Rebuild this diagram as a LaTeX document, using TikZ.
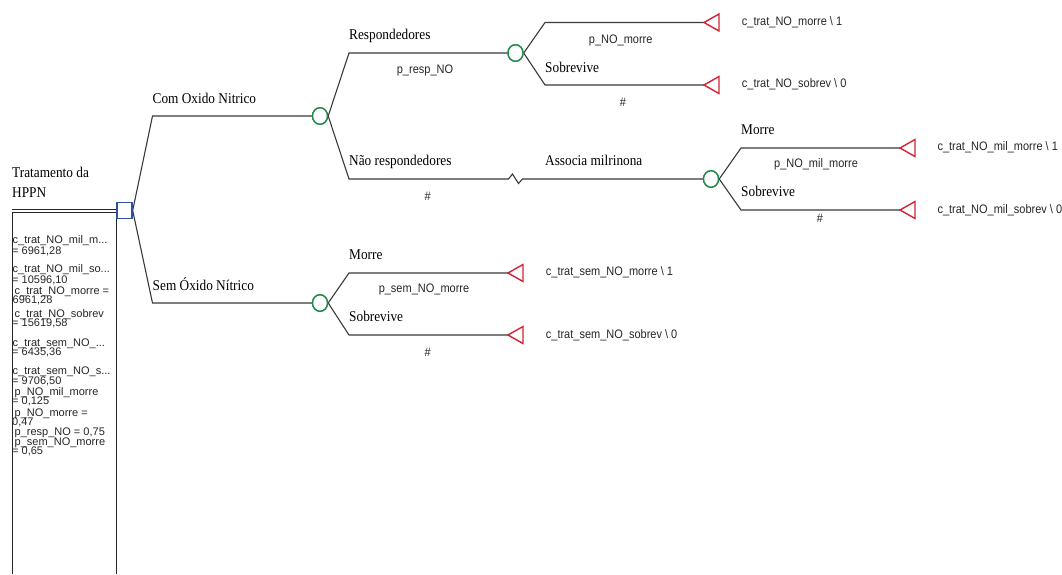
\documentclass[tikz,border=0pt]{standalone}
\usepackage{fontspec}
\setmainfont{Liberation Serif}
\newfontfamily\lsans{Liberation Sans}
\usepackage{graphicx}
\usetikzlibrary{shapes.geometric}
\definecolor{linegray}{RGB}{58,58,58}
\definecolor{chgreen}{RGB}{34,139,76}
\definecolor{decblue}{RGB}{45,82,160}
\definecolor{termred}{RGB}{212,34,52}
\newcommand{\vs}[1]{\scalebox{1}[1.12]{#1}}
\newcommand{\pl}[2]{\hbox{\kern#1pt #2}}
\tikzset{
  branch/.style={draw=linegray, line width=1.1pt},
  boxline/.style={draw=black!85, line width=0.9pt},
  chance/.style={ellipse, draw=chgreen, line width=1.4pt, fill=white, minimum width=15pt, minimum height=16.5pt, inner sep=0pt},
  decision/.style={rectangle, draw=decblue, line width=1.4pt, fill=white, minimum width=15pt, minimum height=16pt, inner sep=0pt},
  term/.style={draw=termred, line width=1.4pt, line join=miter},
  lab/.style={font=\fontsize{13.3}{15}\selectfont, inner sep=0pt, anchor=base west, text=black},
  sl/.style={font=\lsans\fontsize{11}{12}\selectfont, inner sep=0pt, anchor=base west, text=black!85},
  slc/.style={font=\lsans\fontsize{11}{12}\selectfont, inner sep=0pt, anchor=base, text=black!85},
}
\begin{document}
\begin{tikzpicture}[x=1pt,y=-1pt]
\useasboundingbox (0,0) rectangle (1062,574);
\fill[white] (0,0) rectangle (1062,574);

% ---- root label and parameter box
\node[lab] (root1) at (12,177.3) {\vs{Tratamento da}};
\node[lab] (root2) at (12,197.3) {\vs{HPPN}};
\coordinate (bl) at (12,209.5);
\coordinate (bl2) at (12,212);
\coordinate (blb) at (12,574);
\coordinate (br2) at (116,212);
\coordinate (brb) at (116,574);

% ---- nodes
\node[decision] (D) at (124.5,210.5) {};
\node[chance] (N1) at (320,116) {};
\node[chance] (N2) at (320,303) {};
\node[chance] (N3) at (515.5,53) {};
\node[chance] (N4) at (711,179) {};

% corners
\coordinate (cD1) at (152.5,116);
\coordinate (cD2) at (152.5,303);
\coordinate (c11) at (349,53);
\coordinate (c12) at (349,179);
\coordinate (c31) at (545,22.5);
\coordinate (c32) at (545,85);
\coordinate (c41) at (741,148);
\coordinate (c42) at (741,210);
\coordinate (c21) at (349,273);
\coordinate (c22) at (349,335);

% terminal tips
\coordinate (T1) at (704,22.5);
\coordinate (T2) at (704,85);
\coordinate (T3) at (900,148);
\coordinate (T4) at (900,210);
\coordinate (T5) at (508,273);
\coordinate (T6) at (508,335);

% zigzag break
\coordinate (z0) at (508.5,179);
\coordinate (z1) at (512.5,174);
\coordinate (z2) at (518.5,183.5);
\coordinate (z3) at (522.5,179);

% ---- box lines
\draw[boxline] (bl) -- (D.west |- bl);
\draw[boxline] (bl2) -- (D.west |- bl2);
\draw[boxline] (bl2) -- (blb);
\draw[boxline] (br2) -- (brb);

% ---- branches
\draw[branch] (D.east) -- (cD1) -- (N1.west);
\draw[branch] (D.east) -- (cD2) -- (N2.west);
\draw[branch] (N1.east) -- (c11) -- (N3.west);
\draw[branch, line join=miter] (N1.east) -- (c12) -- (z0) -- (z1) -- (z2) -- (z3) -- (N4.west);
\draw[branch] (N3.east) -- (c31) -- (T1);
\draw[branch] (N3.east) -- (c32) -- (T2);
\draw[branch] (N4.east) -- (c41) -- (T3);
\draw[branch] (N4.east) -- (c42) -- (T4);
\draw[branch] (N2.east) -- (c21) -- (T5);
\draw[branch] (N2.east) -- (c22) -- (T6);

% redraw nodes on top
\node[decision] at (D) {};
\node[chance] at (N1) {};
\node[chance] at (N2) {};
\node[chance] at (N3) {};
\node[chance] at (N4) {};

% ---- terminal triangles
\foreach \t in {T1,T2,T3,T4,T5,T6}{
  \draw[term] (\t) -- ++(15,-8.5) -- ++(0,17) -- cycle;
}

% ---- branch labels (serif)
\node[lab] (lCom) at (152.5,103.3) {\vs{Com Oxido Nitrico}};
\node[lab] (lSem) at (152.5,290) {\vs{Sem Óxido Nítrico}};
\node[lab] (lResp) at (349,39) {\vs{Respondedores}};
\node[lab] (lNao) at (349,165.5) {\vs{Não respondedores}};
\node[lab] (lAss) at (545,165.5) {\vs{Associa milrinona}};
\node[lab] (lSob1) at (545,72) {\vs{Sobrevive}};
\node[lab] (lMor4) at (741,134) {\vs{Morre}};
\node[lab] (lSob4) at (741,196) {\vs{Sobrevive}};
\node[lab] (lMor2) at (349,259) {\vs{Morre}};
\node[lab] (lSob2) at (349,321.7) {\vs{Sobrevive}};

% ---- probabilities (sans)
\node[slc] (pResp) at (425,73.3) {\vs{p\_resp\_NO}};
\node[slc] (h1) at (427.7,200) {\vs{\#}};
\node[slc] (pNOm) at (620.7,43.3) {\vs{p\_NO\_morre}};
\node[slc] (h3) at (623,106) {\vs{\#}};
\node[slc] (pMil) at (816,167.7) {\vs{p\_NO\_mil\_morre}};
\node[slc] (h4) at (820,222.7) {\vs{\#}};
\node[slc] (pSem) at (424,292.7) {\vs{p\_sem\_NO\_morre}};
\node[slc] (h2) at (427.7,356) {\vs{\#}};

% ---- payoffs
\node[sl] (v1) at (741.7,25) {\vs{c\_trat\_NO\_morre \textbackslash{} 1}};
\node[sl] (v2) at (741.7,87.3) {\vs{c\_trat\_NO\_sobrev \textbackslash{} 0}};
\node[sl] (v3) at (937.3,150.7) {\vs{c\_trat\_NO\_mil\_morre \textbackslash{} 1}};
\node[sl] (v4) at (937.3,213.3) {\vs{c\_trat\_NO\_mil\_sobrev \textbackslash{} 0}};
\node[sl] (v5) at (545.7,275.7) {\vs{c\_trat\_sem\_NO\_morre \textbackslash{} 1}};
\node[sl] (v6) at (545.7,338) {\vs{c\_trat\_sem\_NO\_sobrev \textbackslash{} 0}};

% ---- parameter box text (one block)
\node[sl] (pbox) at (12,243) {\vtop{\baselineskip=0pt\lineskip=0pt\lineskiplimit=-\maxdimen
\pl{0.5}{c\_trat\_NO\_mil\_m...}\kern11.5pt
\pl{0}{= 6961,28}\kern18pt
\pl{0.5}{c\_trat\_NO\_mil\_so...}\kern10.5pt
\pl{0}{= 10596,10}\kern11pt
\pl{2.5}{c\_trat\_NO\_morre =}\kern9.5pt
\pl{0.5}{6961,28}\kern13.5pt
\pl{2.5}{c\_trat\_NO\_sobrev}\kern9.5pt
\pl{0}{= 15619,58}\kern19.5pt
\pl{0.5}{c\_trat\_sem\_NO\_...}\kern9pt
\pl{0}{= 6435,36}\kern19.5pt
\pl{0.5}{c\_trat\_sem\_NO\_s...}\kern9.5pt
\pl{0}{= 9706,50}\kern11pt
\pl{2.5}{p\_NO\_mil\_morre}\kern9.5pt
\pl{0}{= 0,125}\kern11.5pt
\pl{2.5}{p\_NO\_morre =}\kern9.5pt
\pl{0}{0,47}\kern10pt
\pl{2.5}{p\_resp\_NO = 0,75}\kern9.5pt
\pl{2.5}{p\_sem\_NO\_morre}\kern9.5pt
\pl{0}{= 0,65}}};
\end{tikzpicture}
\end{document}
